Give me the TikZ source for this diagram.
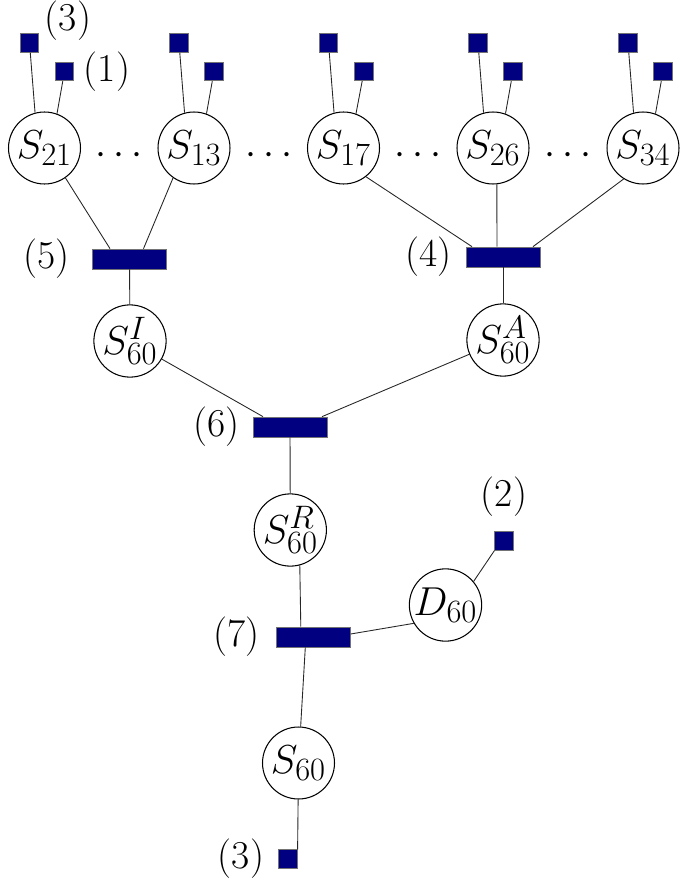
\RequirePackage{fix-cm}
\documentclass[tikz,border=0pt]{standalone}
\usepackage{tikz}
\usetikzlibrary{positioning}
\definecolor{navy}{HTML}{000080}
\DeclareMathSizes{23}{23}{18.5}{14}

\begin{document}
\begin{tikzpicture}[x=0.02cm,y=-0.02cm,
  st/.style={circle,draw,fill=white,line width=0.6pt,minimum size=1.44cm,
            inner sep=0pt,font=\fontsize{23}{27}\selectfont},
  bar/.style={rectangle,draw=black!55,fill=navy,minimum width=1.48cm,
            minimum height=0.4cm,inner sep=0pt},
  sq/.style={rectangle,draw=black!55,fill=navy,minimum size=0.37cm,inner sep=0pt},
  lab/.style={inner sep=0pt,font=\fontsize{22.5}{27}\selectfont},
  ln/.style={line width=0.5pt,draw=black!85}
]
\useasboundingbox (0,0) rectangle (685,892);
% top row of states
\node[st] (s21) at (44.5,148) {$S_{21}$};
\node[st] (s13) at (194,148) {$S_{13}$};
\node[st] (s17) at (343.5,148) {$S_{17}$};
\node[st] (s26) at (493,148) {$S_{26}$};
\node[st] (s34) at (643,148) {$S_{34}$};
\node[lab] (dots1) at (119,156) {$\cdots$};
\node[lab] (dots2) at (269,156) {$\cdots$};
\node[lab] (dots3) at (418,156) {$\cdots$};
\node[lab] (dots4) at (568,156) {$\cdots$};
% their inputs
\node[sq] (qa21) at (29.5,43) {};
\node[sq] (qb21) at (64.5,71.5) {};
\node[sq] (qa13) at (179,43) {};
\node[sq] (qb13) at (214,71.5) {};
\node[sq] (qa17) at (328.5,43) {};
\node[sq] (qb17) at (364,71.5) {};
\node[sq] (qa26) at (478,43) {};
\node[sq] (qb26) at (513,71.5) {};
\node[sq] (qa34) at (628,43) {};
\node[sq] (qb34) at (663,71.5) {};
\node[lab] (l3top) at (68,21) {(3)};
\node[lab,right=1.9mm of qb21] (l1) {(1)};
\draw[ln] (qa21)--(s21.105);
\draw[ln] (qb21)--(s21.70);
\draw[ln] (qa13)--(s13.105);
\draw[ln] (qb13)--(s13.70);
\draw[ln] (qa17)--(s17.105);
\draw[ln] (qb17)--(s17.70);
\draw[ln] (qa26)--(s26.105);
\draw[ln] (qb26)--(s26.70);
\draw[ln] (qa34)--(s34.105);
\draw[ln] (qb34)--(s34.70);
% first level factors
\node[bar] (b5) at (129.5,259) {};
\node[bar] (b4) at (503,257) {};
\node[lab,left=4.4mm of b5] (l5) {(5)};
\node[lab,left=2.8mm of b4] (l4) {(4)};
\draw[ln] (s21.-55)--([xshift=-0.39cm]b5.north);
\draw[ln] (s13.-125)--([xshift=0.28cm]b5.north);
\draw[ln] (s17.-52)--([xshift=-0.62cm]b4.north);
\draw[ln] (s26.-84)--([xshift=-0.12cm]b4.north);
\draw[ln] (s34.-122)--([xshift=0.6cm]b4.north);
\node[st] (sI) at (130,341) {$S^{I}_{60}$};
\node[st] (sA) at (503,340) {$S^{A}_{60}$};
\draw[ln] (b5)--(sI);
\draw[ln] (b4)--(sA);
% merge
\node[bar] (b6) at (290,427) {};
\node[lab,left=2.5mm of b6] (l6) {(6)};
\draw[ln] (sI)--([xshift=-0.54cm]b6.north);
\draw[ln] (sA)--([xshift=0.64cm]b6.north);
\node[st] (sR) at (290.3,530) {$S^{R}_{60}$};
\draw[ln] (b6)--(sR);
% last factor
\node[bar] (b7) at (313.3,637) {};
\node[lab,left=3.2mm of b7] (l7) {(7)};
\node[st] (d60) at (445.5,605) {$D_{60}$};
\node[sq] (q2) at (504,541) {};
\node[lab,above=3mm of q2] (l2) {(2)};
\draw[ln] (sR.-75)--([xshift=-0.25cm]b7.north);
\draw[ln] ([yshift=0.06cm]b7.east)--(d60.210);
\draw[ln] (d60.40)--(q2.south west);
\node[st] (s60) at (298.5,763) {$S_{60}$};
\node[sq] (q3) at (288,859) {};
\node[lab,left=2.8mm of q3] (l3) {(3)};
\draw[ln] ([xshift=-0.16cm]b7.south)--(s60);
\draw[ln] (s60)--(q3.north east);
\end{tikzpicture}
\end{document}
